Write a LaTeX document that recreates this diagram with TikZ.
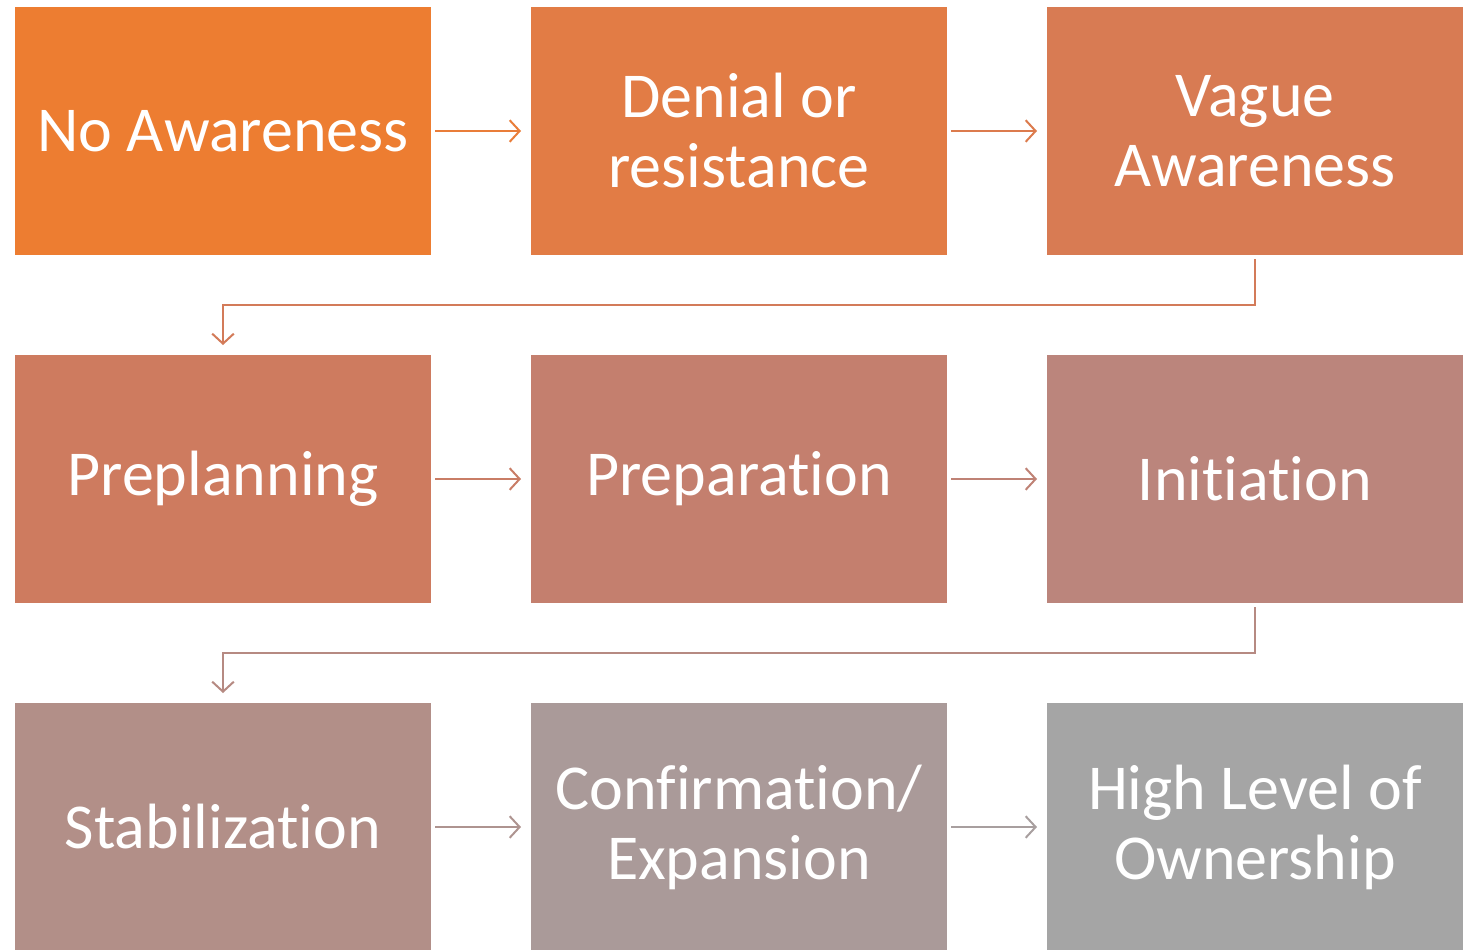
\documentclass[tikz,border=0pt]{standalone}
\usepackage{fontspec}
\setmainfont[RawFeature={-liga;-dlig;-clig;-calt}]{Carlito}
\usetikzlibrary{positioning,arrows.meta}

\definecolor{stageA}{HTML}{ED7D31}
\definecolor{stageB}{HTML}{E27C45}
\definecolor{stageC}{HTML}{D87B53}
\definecolor{stageD}{HTML}{CE7B5F}
\definecolor{stageE}{HTML}{C47F6E}
\definecolor{stageF}{HTML}{BB857C}
\definecolor{stageG}{HTML}{B28F88}
\definecolor{stageH}{HTML}{AA9A99}
\definecolor{stageI}{HTML}{A5A5A5}

\begin{document}
\begin{tikzpicture}[x=0.3pt,y=-0.3pt,
  stage/.style={fill=#1, minimum width=124.8pt, minimum height=74.4pt,
    inner sep=0pt, outer sep=0pt, text=white, align=center,
    font=\fontsize{19.2}{21}\selectfont},
  flow/.style={draw=#1, line width=0.6pt, shorten <=1.2pt, shorten >=3pt,
    -{Straight Barb[length=3pt,width=6.5pt]}},
  node distance=30pt]
  \useasboundingbox (0,0) rectangle (1465,949);

  % first row
  \node[stage=stageA, anchor=north west] (noaware) at (15,7) {No Awareness};
  \node[stage=stageB, right=of noaware] (denial) {Denial or\\resistance};
  \node[stage=stageC, right=of denial] (vague) {Vague\\Awareness};
  % second row
  \node[stage=stageD, below=of noaware] (preplan) {Preplanning};
  \node[stage=stageE, right=of preplan] (prep) {Preparation};
  \node[stage=stageF, right=of prep] (init) {Initiation};
  % third row
  \node[stage=stageG, below=of preplan] (stab) {Stabilization};
  \node[stage=stageH, right=of stab] (confirm) {Confirmation/\\Expansion};
  \node[stage=stageI, right=of confirm] (owner) {High Level of\\Ownership};

  \draw[flow=stageA!60!stageB] (noaware) -- (denial);
  \draw[flow=stageB!40!stageC] (denial) -- (vague);
  \draw[flow=stageC!50!stageD] (vague.south) -- ++(0,50) -| (preplan.north);
  \draw[flow=stageD!50!stageE] (preplan) -- (prep);
  \draw[flow=stageE!50!stageF] (prep) -- (init);
  \draw[flow=stageF!50!stageG] (init.south) -- ++(0,50) -| (stab.north);
  \draw[flow=stageG!50!stageH] (stab) -- (confirm);
  \draw[flow=stageH!50!stageI] (confirm) -- (owner);
\end{tikzpicture}
\end{document}
